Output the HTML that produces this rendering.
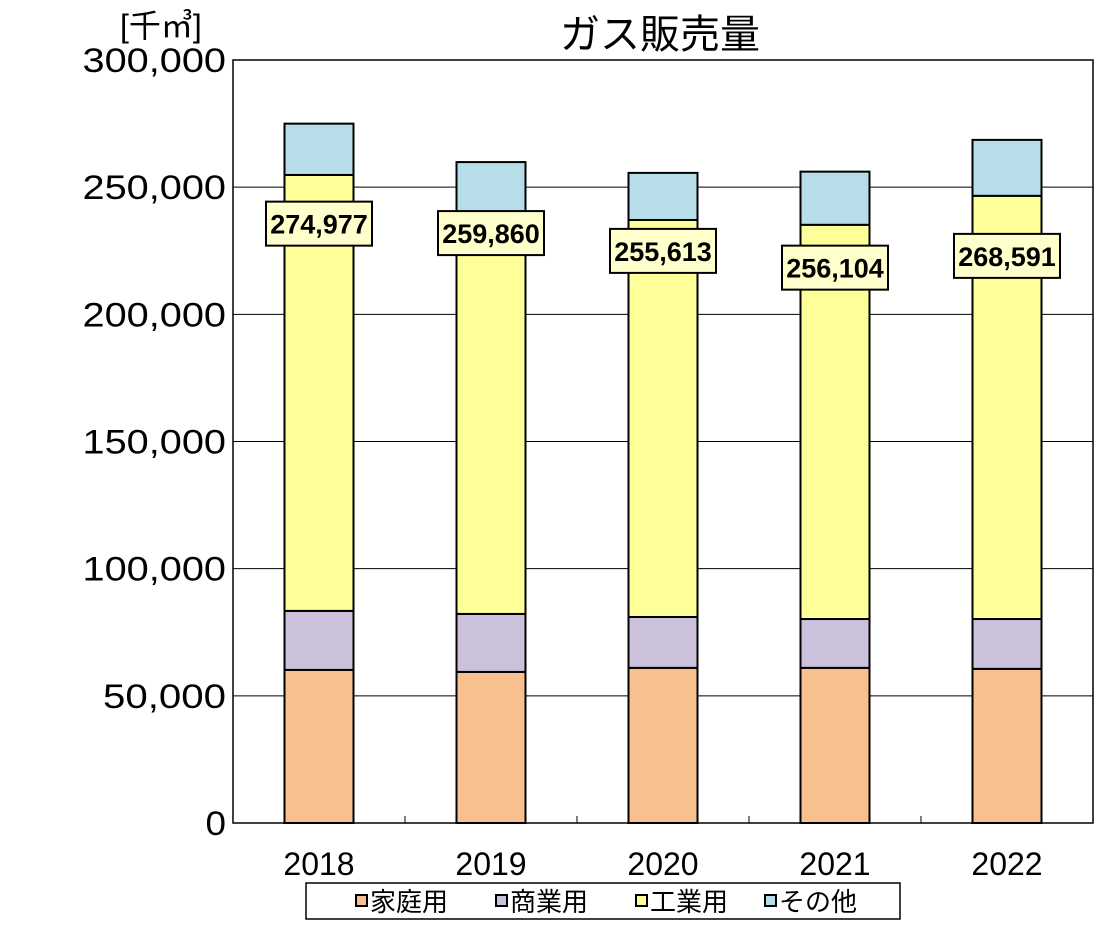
<!DOCTYPE html>
<html><head><meta charset="utf-8"><style>
body{margin:0;background:#fff;font-family:"Liberation Sans","Noto Sans CJK JP",sans-serif}
</style></head><body>
<svg id="c" width="1100" height="922" xmlns="http://www.w3.org/2000/svg" font-family="Liberation Sans, Noto Sans CJK JP, sans-serif"></svg>
<script>
const years=["2018","2019","2020","2021","2022"];
const home=[60200,59400,61000,61000,60600];
const commercial=[23200,22800,20000,19200,19600];
const industrial=[171400,158000,156100,155000,166400];
const other=[20177,19660,18513,20904,21991];
const totals=["274,977","259,860","255,613","256,104","268,591"];
const yTicks=[0,50000,100000,150000,200000,250000,300000];
const yTickLabels=["0","50,000","100,000","150,000","200,000","250,000","300,000"];
const seriesNames=["家庭用","商業用","工業用","その他"];
const colors=["#f8bf8f","#ccc1db","#ffff99","#b6dde8"];
const labelDy=[100,71,78,96,116];
const svg=document.getElementById('c');const NS="http://www.w3.org/2000/svg";
const L=233,R=1093,T=60,B=823;
const y=v=>B-(v/300000)*(B-T);
const band=(R-L)/years.length;const xc=i=>L+band*(i+0.5);const bw=69;
function mk(t,a,p){const e=document.createElementNS(NS,t);for(const k in a)e.setAttribute(k,a[k]);(p||svg).appendChild(e);return e;}
let e;
e=mk('rect',{x:L,y:T,width:R-L,height:B-T,fill:'#fff',stroke:'#000','stroke-width':1.5});

yTicks.forEach((v,i)=>{
 if(v>0&&v<300000){e=mk('line',{x1:L,x2:R,y1:y(v),y2:y(v),stroke:'#000','stroke-width':1});
 }
 const lab=yTickLabels[i];
 const w=lab.length*20.5;
 e=mk('text',{x:226,y:y(v)+12,'text-anchor':'end','font-size':34,textLength:w,lengthAdjust:'spacingAndGlyphs'});e.textContent=lab;
 
});
for(let i=1;i<years.length;i++){e=mk('line',{x1:L+band*i,x2:L+band*i,y1:B,y2:B-7,stroke:'#000'});
 }
const series=[home,commercial,industrial,other];
years.forEach((yr,i)=>{
 let acc=0;
 series.forEach((s,k)=>{const y0=y(acc),y1=y(acc+s[i]);acc+=s[i];
  e=mk('rect',{x:xc(i)-bw/2,y:y1,width:bw,height:y0-y1,fill:colors[k],stroke:'#000','stroke-width':2});
  });
 e=mk('text',{x:xc(i),y:875,'text-anchor':'middle','font-size':32});e.textContent=yr;
 
 const cy=y(acc)+labelDy[i];
 e=mk('rect',{x:xc(i)-53,y:cy-22,width:106,height:44,fill:'#ffffcc',stroke:'#000','stroke-width':2});
 
 e=mk('text',{x:xc(i),y:cy+10,'text-anchor':'middle','font-size':27,'font-weight':'bold'});e.textContent=totals[i];
 
});
e=mk('text',{x:660,y:48,'text-anchor':'middle','font-size':40});e.textContent="ガス販売量";

e=mk('text',{x:120,y:37,'font-size':32});e.textContent="[千㎥]";

const lg=mk('g',{});
e=mk('rect',{x:306,y:883,width:594,height:36,fill:'#fff',stroke:'#000','stroke-width':1.5},lg);

const lx=[356,496,636,765];
seriesNames.forEach((n,k)=>{
 e=mk('rect',{x:lx[k],y:895,width:11,height:11,fill:colors[k],stroke:'#000','stroke-width':2},lg);
 
 e=mk('text',{x:lx[k]+14,y:911,'font-size':26},lg);e.textContent=n;
 
});
</script>
</body></html>
